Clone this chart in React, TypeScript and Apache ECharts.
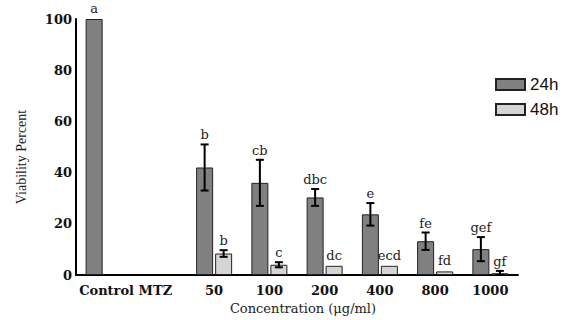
import React, { useEffect, useRef } from "react";
import * as echarts from "echarts";

const categories = ["Control MTZ", "", "50", "100", "200", "400", "800", "1000"];
const viability24: (number | null)[] = [100, null, 42, 36, 30.3, 23.7, 13.2, 10.1];
const error24: (number | null)[] = [0, null, 9, 9, 3.3, 4.4, 3.4, 4.7];
const letters24 = ["a", "", "b", "cb", "dbc", "e", "fe", "gef"];
const viability48: (number | null)[] = [null, null, 8.4, 4, 3.6, 3.6, 1.4, 0.7];
const error48: (number | null)[] = [null, null, 1.3, 1, 0, 0, 0, 0.9];
const letters48 = ["", "", "b", "c", "dc", "ecd", "fd", "gf"];
const yTicks = [0, 20, 40, 60, 80, 100];

const BAR_W = 17;
const GAP = 2;

function errSeries(name: string, vals: (number | null)[], errs: (number | null)[], letters: string[], dir: number) {
  const data: number[][] = [];
  vals.forEach((v, i) => {
    if (v !== null) data.push([i, v, errs[i] ?? 0]);
  });
  return {
    type: "custom",
    name,
    clip: false,
    z: 5,
    data,
    renderItem: (params: any, api: any) => {
      const idx = api.value(0);
      const v = api.value(1);
      const e = api.value(2);
      const base = api.coord([idx, v]);
      const x = base[0] + dir * (BAR_W / 2 + GAP / 2);
      const top = api.coord([idx, v + e])[1];
      const bot = api.coord([idx, Math.max(0, v - e)])[1];
      const children: any[] = [];
      if (e > 0) {
        const ls = { stroke: "#000", lineWidth: 2 };
        children.push({ type: "line", shape: { x1: x, y1: top, x2: x, y2: bot }, style: ls });
        children.push({ type: "line", shape: { x1: x - 4, y1: top, x2: x + 4, y2: top }, style: ls });
        children.push({ type: "line", shape: { x1: x - 4, y1: bot, x2: x + 4, y2: bot }, style: ls });
      }
      const txt = letters[idx];
      if (txt) {
        children.push({
          type: "text",
          style: {
            text: txt,
            x,
            y: top - (e > 0 ? 3 : 4),
            align: "center",
            verticalAlign: "bottom",
            fill: "#222",
            font: "13px 'DejaVu Serif'",
          },
        });
      }
      return { type: "group", children };
    },
  };
}

export default function App() {
  const ref = useRef<HTMLDivElement>(null);
  useEffect(() => {
    if (!ref.current) return;
    document.body.style.margin = "0";
    const chart = echarts.init(ref.current, null, { renderer: "svg" });
    chart.setOption({
      animation: false,
      backgroundColor: "#fff",
      grid: { left: 76, right: 57, top: 19, bottom: 44 },
      legend: {
        data: ["24h", "48h"],
        orient: "vertical",
        left: 490,
        top: 71,
        itemWidth: 29,
        itemHeight: 11,
        itemGap: 8,
        itemTextGap: 16,
        icon: "rect",
        textStyle: { fontFamily: "Liberation Sans", fontSize: 17, color: "#111" },
      },
      xAxis: {
        type: "category",
        data: categories.map((c, i) =>
          i === 0 ? { value: c, textStyle: { padding: [0, 0, 0, 44] } } : c
        ),
        axisLine: { lineStyle: { color: "#000", width: 2 } },
        axisTick: { show: false },
        axisLabel: {
          interval: 0,
          margin: 9,
          fontFamily: "DejaVu Serif",
          fontWeight: "bold",
          fontSize: 13,
          color: "#111",
        },
        name: "Concentration (\u03bcg/ml)",
        nameLocation: "middle",
        nameGap: 27,
        nameTextStyle: { fontFamily: "DejaVu Serif", fontSize: 13, color: "#222", padding: [0, 0, 0, 12] },
      },
      yAxis: {
        type: "value",
        min: yTicks[0],
        max: yTicks[yTicks.length - 1],
        interval: 20,
        splitLine: { show: false },
        axisLine: { show: true, lineStyle: { color: "#000", width: 2 } },
        axisTick: { show: false },
        axisLabel: {
          margin: 4,
          fontFamily: "DejaVu Serif",
          fontWeight: "bold",
          fontSize: 13,
          color: "#111",
        },
        name: "Viability Percent",
        nameLocation: "middle",
        nameGap: 48,
        nameTextStyle: { fontFamily: "Liberation Serif", fontSize: 14, color: "#222", padding: [0, 20, 0, 0] },
      },
      series: [
        {
          type: "bar",
          name: "24h",
          data: viability24.map((v) => (v === null ? "-" : v)),
          barWidth: BAR_W,
          barGap: (GAP / BAR_W) * 100 + "%",
          itemStyle: { color: "#808080", borderColor: "#222", borderWidth: 1 },
        },
        {
          type: "bar",
          name: "48h",
          data: viability48.map((v) => (v === null ? "-" : v)),
          barWidth: BAR_W,
          itemStyle: { color: "#d4d4d4", borderColor: "#222", borderWidth: 1 },
        },
        errSeries("err24", viability24, error24, letters24, -1),
        errSeries("err48", viability48, error48, letters48, 1),
      ],
    });
    return () => chart.dispose();
  }, []);
  return <div ref={ref} style={{ width: 575, height: 320 }} />;
}
